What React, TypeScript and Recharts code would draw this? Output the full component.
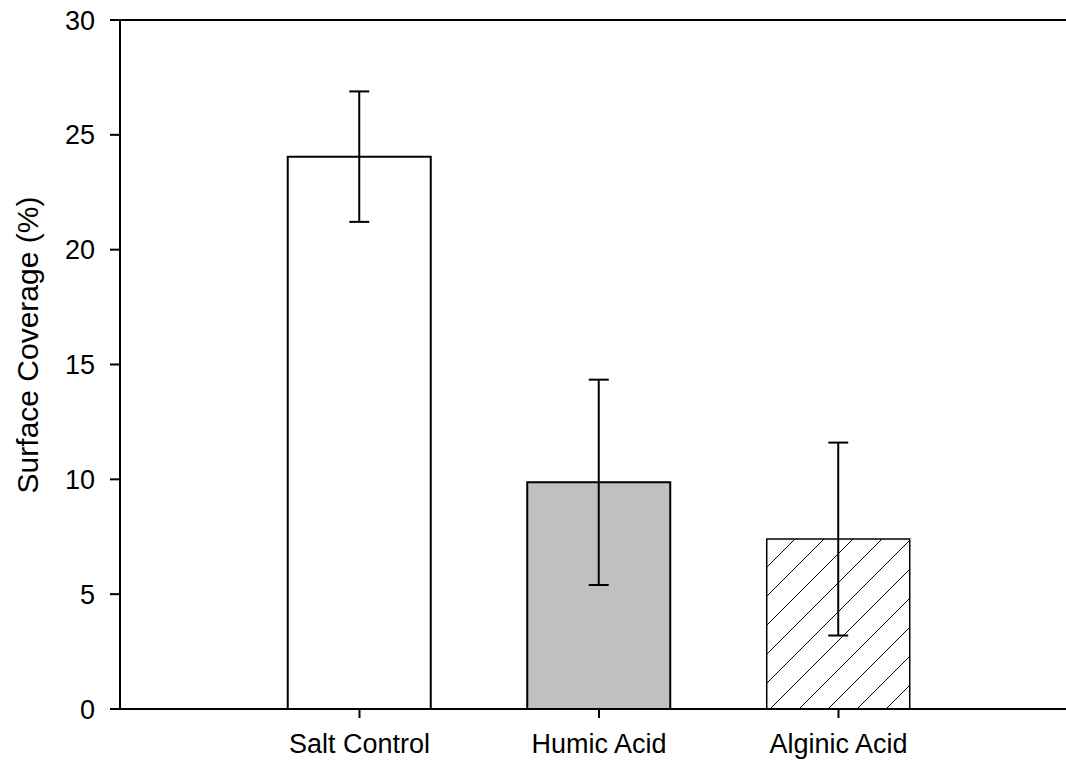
import * as React from "react";
import { BarChart, Bar, XAxis, YAxis, ErrorBar, Cell, ReferenceLine, Label } from "recharts";

const categories = ["Salt Control", "Humic Acid", "Alginic Acid"];
const coverage = [24.05, 9.87, 7.4];
const coverageErr = [2.84, 4.47, 4.2];
const yTicks = [0, 5, 10, 15, 20, 25, 30];

const FONT = "'Liberation Sans', Arial, sans-serif";

type Row = { pos: number; name: string; value: number; err: number };

const rows: Row[] = categories.map((name, i) => ({
  pos: i + 1,
  name,
  value: coverage[i],
  err: coverageErr[i],
}));

const fills = ["#ffffff", "#c0c0c0", "url(#hatch)"];
const strokes = [2, 2, 1.5];

export default function App() {
  return (
    <div style={{ position: "absolute", left: 0, top: 0, background: "#fff" }}>
      <BarChart
        width={1066}
        height={762}
        data={rows}
        margin={{ top: 20, right: 0, left: 0, bottom: 0 }}
      >
        <defs>
          <pattern id="hatch" patternUnits="userSpaceOnUse" width={29} height={29}>
            <rect width={29} height={29} fill="#fff" />
            <path d="M0,29 L29,0 M-3,3 L3,-3 M26,32 L32,26" stroke="#000" strokeWidth={1} />
          </pattern>
        </defs>
        <XAxis
          dataKey="pos"
          type="number"
          domain={[0, 3.95]}
          ticks={[1, 2, 3]}
          tickFormatter={(v) => categories[v - 1] ?? ""}
          height={53}
          tickSize={9}
          tickMargin={16}
          axisLine={{ stroke: "#000", strokeWidth: 2 }}
          tickLine={{ stroke: "#000", strokeWidth: 2 }}
          tick={{ fill: "#000", fontSize: 27, fontFamily: FONT }}
          allowDataOverflow
        />
        <YAxis
          type="number"
          domain={[0, 30]}
          ticks={yTicks}
          width={120}
          tickSize={10}
          tickMargin={15}
          axisLine={{ stroke: "#000", strokeWidth: 2 }}
          tickLine={{ stroke: "#000", strokeWidth: 2 }}
          tick={{ fill: "#000", fontSize: 27, fontFamily: FONT }}
        >
          <Label
            content={() => (
              <text
                x={27}
                y={345}
                transform="rotate(-90, 27, 345)"
                textAnchor="middle"
                dominantBaseline="central"
                fontSize={30}
                fontFamily={FONT}
                fill="#000"
              >
                Surface Coverage (%)
              </text>
            )}
          />
        </YAxis>
        <ReferenceLine y={30} stroke="#000" strokeWidth={2} />
        <Bar dataKey="value" barSize={143} isAnimationActive={false}>
          {rows.map((r, i) => (
            <Cell key={r.name} fill={fills[i]} stroke="#000" strokeWidth={strokes[i]} />
          ))}
          <ErrorBar dataKey="err" direction="y" width={10} stroke="#000" strokeWidth={2} />
        </Bar>
      </BarChart>
    </div>
  );
}
